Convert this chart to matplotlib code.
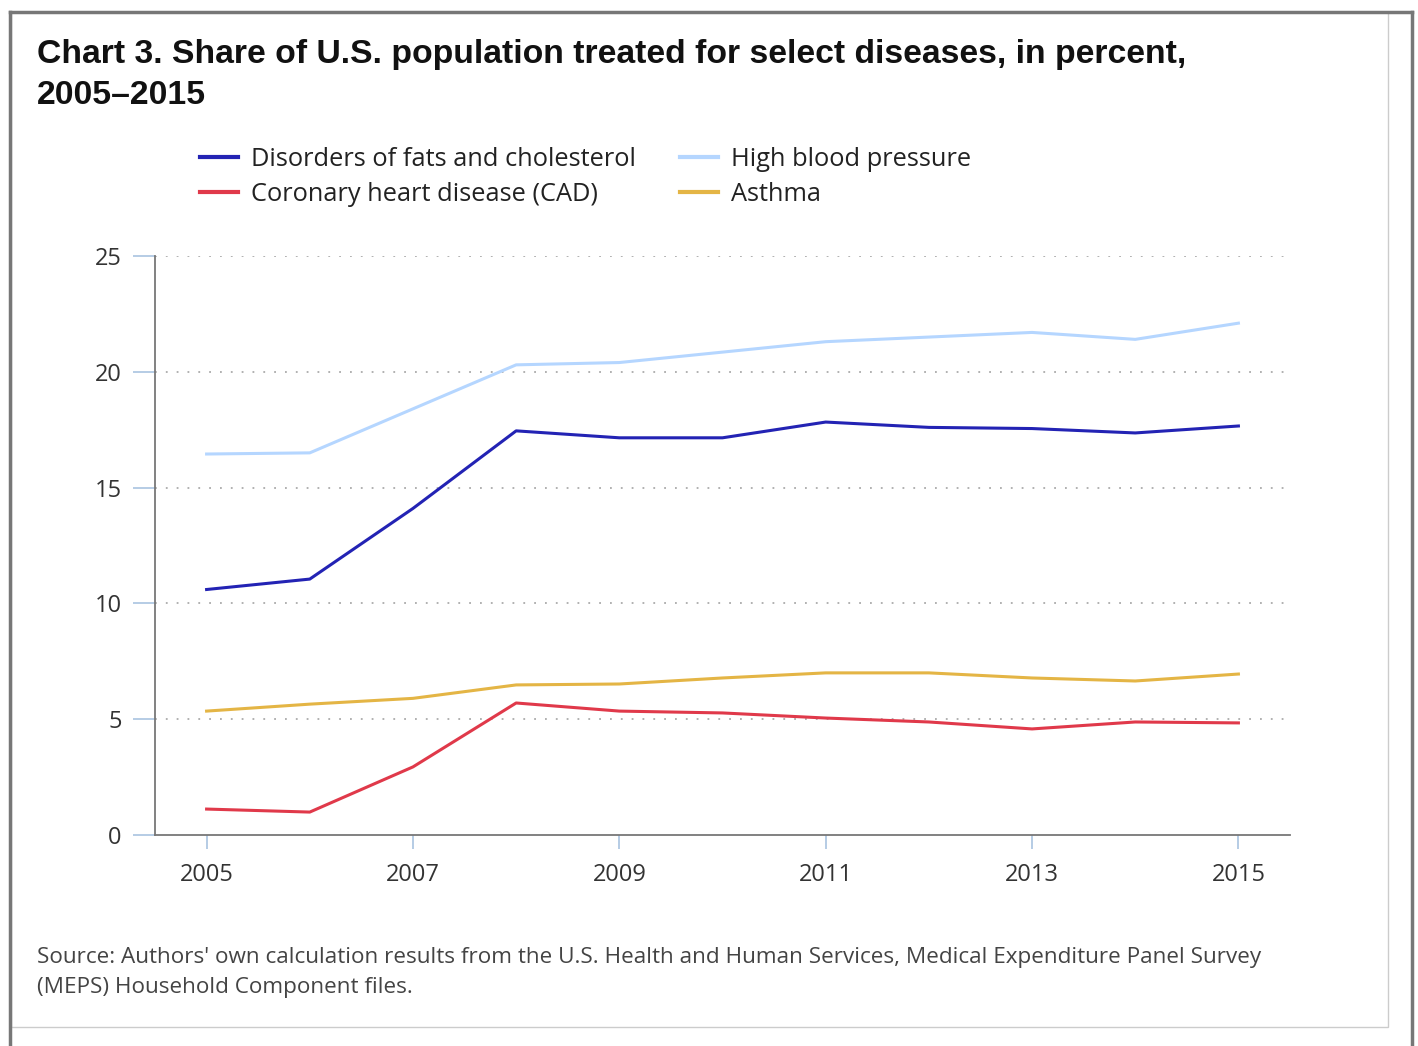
import matplotlib.pyplot as plt
from matplotlib.lines import Line2D
from matplotlib.patches import Rectangle

years = list(range(2005, 2016))
fats = [10.6, 11.05, 14.1, 17.45, 17.15, 17.15, 17.83, 17.6, 17.55, 17.36, 17.66]
high_bp = [16.45, 16.5, 18.4, 20.3, 20.4, 20.85, 21.3, 21.5, 21.7, 21.4, 22.1]
cad = [1.12, 0.99, 2.94, 5.7, 5.35, 5.27, 5.05, 4.88, 4.58, 4.88, 4.84]
asthma = [5.35, 5.65, 5.9, 6.48, 6.52, 6.78, 7.0, 7.0, 6.78, 6.65, 6.95]

x_ticks = [2005, 2007, 2009, 2011, 2013, 2015]
y_ticks = [0, 5, 10, 15, 20, 25]

c_fats = "#2323b4"
c_bp = "#b5d6ff"
c_cad = "#e0394a"
c_asthma = "#e4b545"

plt.rcParams['font.family'] = ['Open Sans', 'DejaVu Sans']

fig = plt.figure(figsize=(14.18, 10.46), dpi=100)

W, H = 1418, 1046

# outer dark frame: top, left and right only (bottom is cut off)
for xs, ys in [((10, 1412), (12, 12)), ((10, 10), (12, 1046)), ((1412, 1412), (12, 1046))]:
    fig.add_artist(Line2D([xs[0] / W, xs[1] / W], [1 - ys[0] / H, 1 - ys[1] / H],
                          transform=fig.transFigure, color="#777777", lw=2.5))
# inner light panel
fig.patches.append(Rectangle((11 / W, 1 - 1027 / H), 1377 / W, 1015 / H,
                             transform=fig.transFigure, fill=False,
                             edgecolor="#cccccc", linewidth=1))

ax = fig.add_axes([155 / W, 1 - 835 / H, 1135 / W, 579 / H])

ax.plot(years, high_bp, color=c_bp, lw=2.2, label="High blood pressure")
ax.plot(years, fats, color=c_fats, lw=2.2, label="Disorders of fats and cholesterol")
ax.plot(years, asthma, color=c_asthma, lw=2.2, label="Asthma")
ax.plot(years, cad, color=c_cad, lw=2.2, label="Coronary heart disease (CAD)")

ax.set_xlim(2004.5, 2015.5)
ax.set_ylim(0, 25)
ax.set_xticks(x_ticks)
ax.set_yticks(y_ticks)
ax.set_xticklabels([str(v) for v in x_ticks])
ax.set_yticklabels([str(v) for v in y_ticks])
ax.tick_params(axis='y', length=16, color="#a9c4e0", width=1.2, labelsize=17,
               labelcolor="#333333", pad=8)
ax.tick_params(axis='x', length=10, color="#a9c4e0", width=1.2, labelsize=17,
               labelcolor="#333333", pad=10)

for yv in y_ticks[1:]:
    ax.axhline(yv, color="#aaaaaa", lw=1.3, linestyle=(0, (1, 5)), zorder=0)

ax.spines['top'].set_visible(False)
ax.spines['right'].set_visible(False)
ax.spines['left'].set_color("#777777")
ax.spines['bottom'].set_color("#777777")
ax.spines['left'].set_linewidth(1.3)
ax.spines['bottom'].set_linewidth(1.3)

title_font = ['Liberation Sans', 'DejaVu Sans']
fig.text(37 / W, 1 - 54 / H, "Chart 3. Share of U.S. population treated for select diseases, in percent,",
         fontsize=24.3, fontweight='bold', color="#111111", va='center', family=title_font)
fig.text(37 / W, 1 - 95 / H, "2005\u20132015",
         fontsize=24.3, fontweight='bold', color="#111111", va='center', family=title_font)

handles = [Line2D([], [], color=c_fats, lw=3), Line2D([], [], color=c_cad, lw=3),
           Line2D([], [], color=c_bp, lw=3), Line2D([], [], color=c_asthma, lw=3)]
labels = ["Disorders of fats and cholesterol", "Coronary heart disease (CAD)",
          "High blood pressure", "Asthma"]
fig.legend(handles, labels, ncol=2, loc='upper left',
           bbox_to_anchor=(200 / W, 1 - 147 / H), frameon=False,
           borderpad=0, borderaxespad=0,
           fontsize=18.3, handlelength=1.5, handletextpad=0.5,
           columnspacing=1.75, labelspacing=0.38, labelcolor="#222222")

fig.text(37 / W, 1 - 957 / H,
         "Source: Authors' own calculation results from the U.S. Health and Human Services, Medical Expenditure Panel Survey",
         fontsize=16.2, color="#444444", va='center')
fig.text(37 / W, 1 - 987 / H, "(MEPS) Household Component files.",
         fontsize=16.2, color="#444444", va='center')

fig.savefig("out.png", dpi=100)
